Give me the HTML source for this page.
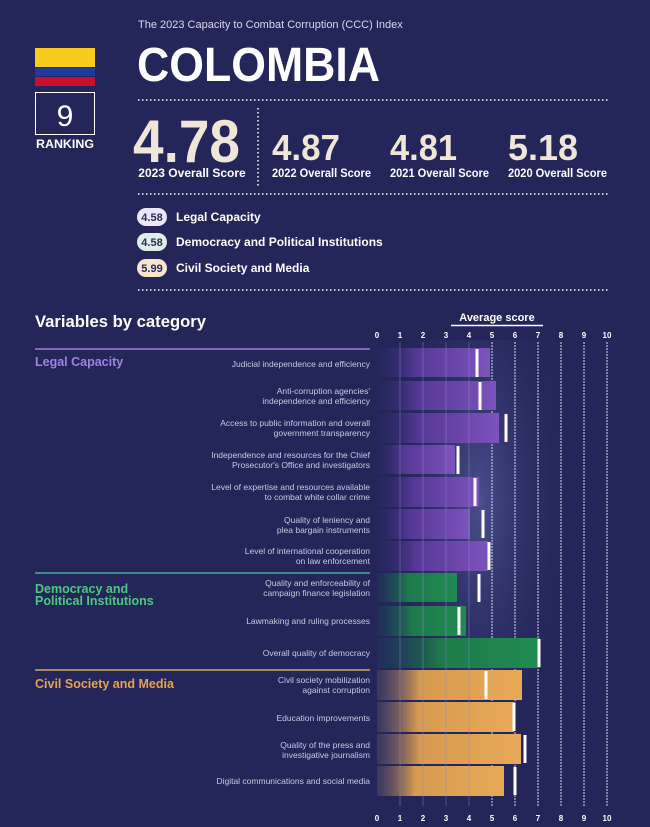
<!DOCTYPE html>
<html><head><meta charset="utf-8"><style>
html,body{margin:0;padding:0;background:#24265a;}
svg{display:block}
text{font-family:"Liberation Sans",sans-serif;}
</style></head><body>
<svg width="650" height="827" viewBox="0 0 650 827" xmlns="http://www.w3.org/2000/svg">
<defs>
<linearGradient id="gp" x1="0" x2="1"><stop offset="0" stop-color="#2a2868" stop-opacity="0.2"/><stop offset="0.35" stop-color="#553896"/><stop offset="1" stop-color="#7d52bc"/></linearGradient>
<linearGradient id="gg" x1="0" x2="1"><stop offset="0" stop-color="#1a4a58" stop-opacity="0.2"/><stop offset="0.4" stop-color="#1d7a4c"/><stop offset="1" stop-color="#218a52"/></linearGradient>
<linearGradient id="go" x1="0" x2="1"><stop offset="0" stop-color="#6a5a70" stop-opacity="0.3"/><stop offset="0.3" stop-color="#d69a50"/><stop offset="1" stop-color="#e8aa58"/></linearGradient>
<radialGradient id="glow" cx="0.5" cy="0.35" r="0.6"><stop offset="0" stop-color="#4a4f8c"/><stop offset="1" stop-color="#24265a" stop-opacity="0"/></radialGradient>
</defs>
<rect width="650" height="827" fill="#24265a"/>
<text x="138" y="28" font-size="11" fill="#d8d8e8">The 2023 Capacity to Combat Corruption (CCC) Index</text>
<text x="137" y="81" font-size="48" font-weight="bold" fill="#ffffff" textLength="243" lengthAdjust="spacingAndGlyphs">COLOMBIA</text>
<rect x="35" y="48" width="60" height="19" fill="#f8cc1c"/>
<rect x="35" y="68" width="60" height="8" fill="#1e3a9c"/>
<rect x="35" y="77" width="60" height="9" fill="#c8102e"/>
<rect x="35.5" y="92.5" width="59" height="42" fill="none" stroke="#ffffff" stroke-width="1"/>
<text x="65" y="126" font-size="30" fill="#ffffff" text-anchor="middle">9</text>
<text x="65" y="148" font-size="12" font-weight="bold" fill="#ffffff" text-anchor="middle" textLength="58" lengthAdjust="spacingAndGlyphs">RANKING</text>
<line x1="138" y1="100" x2="610" y2="100" stroke="#fff" stroke-width="1.5" stroke-dasharray="1.5 2.5"/>
<line x1="258" y1="108" x2="258" y2="188" stroke="#fff" stroke-width="1.5" stroke-dasharray="1.5 2.5"/>
<text x="133" y="162" font-size="60" font-weight="bold" fill="#efe6d8" textLength="107" lengthAdjust="spacingAndGlyphs">4.78</text>
<text x="192" y="177" font-size="12" font-weight="bold" fill="#fff" text-anchor="middle">2023 Overall Score</text>
<text x="272" y="160" font-size="36" font-weight="bold" fill="#efe6d8" textLength="68" lengthAdjust="spacingAndGlyphs">4.87</text>
<text x="390" y="160" font-size="36" font-weight="bold" fill="#efe6d8" textLength="67" lengthAdjust="spacingAndGlyphs">4.81</text>
<text x="508" y="160" font-size="36" font-weight="bold" fill="#efe6d8" textLength="70" lengthAdjust="spacingAndGlyphs">5.18</text>
<text x="272" y="177" font-size="12" font-weight="bold" fill="#fff" textLength="99" lengthAdjust="spacingAndGlyphs">2022 Overall Score</text>
<text x="390" y="177" font-size="12" font-weight="bold" fill="#fff" textLength="99" lengthAdjust="spacingAndGlyphs">2021 Overall Score</text>
<text x="508" y="177" font-size="12" font-weight="bold" fill="#fff" textLength="99" lengthAdjust="spacingAndGlyphs">2020 Overall Score</text>
<line x1="138" y1="194" x2="610" y2="194" stroke="#fff" stroke-width="1.5" stroke-dasharray="1.5 2.5"/>
<rect x="137" y="208" width="30" height="18" rx="9" fill="#ece6f8"/>
<text x="152" y="221" font-size="11" font-weight="bold" fill="#2a2a5a" text-anchor="middle">4.58</text>
<text x="176" y="221" font-size="12" font-weight="bold" fill="#fff">Legal Capacity</text>
<rect x="137" y="233" width="30" height="18" rx="9" fill="#dcf0e8"/>
<text x="152" y="246" font-size="11" font-weight="bold" fill="#2a2a5a" text-anchor="middle">4.58</text>
<text x="176" y="246" font-size="12" font-weight="bold" fill="#fff">Democracy and Political Institutions</text>
<rect x="137" y="259" width="30" height="18" rx="9" fill="#f8e6cc"/>
<text x="152" y="272" font-size="11" font-weight="bold" fill="#2a2a5a" text-anchor="middle">5.99</text>
<text x="176" y="272" font-size="12" font-weight="bold" fill="#fff">Civil Society and Media</text>
<line x1="138" y1="290" x2="610" y2="290" stroke="#fff" stroke-width="1.5" stroke-dasharray="1.5 2.5"/>
<text x="35" y="327" font-size="17" font-weight="bold" fill="#fff" textLength="171" lengthAdjust="spacingAndGlyphs">Variables by category</text>
<text x="497" y="321" font-size="11" font-weight="bold" fill="#fff" text-anchor="middle">Average score</text>
<line x1="451" y1="325.5" x2="543" y2="325.5" stroke="#fff" stroke-width="1.5"/>
<rect x="400" y="340" width="160" height="460" fill="url(#glow)"/>
<g stroke="#d8d8ee" stroke-dasharray="2 1">
<line x1="492" y1="342" x2="492" y2="806"/><line x1="515" y1="342" x2="515" y2="806"/><line x1="538" y1="342" x2="538" y2="806"/><line x1="561" y1="342" x2="561" y2="806"/><line x1="584" y1="342" x2="584" y2="806"/><line x1="607" y1="342" x2="607" y2="806"/>
</g>
<g font-size="8" font-weight="bold" fill="#fff" text-anchor="middle">
<text x="377" y="338">0</text><text x="400" y="338">1</text><text x="423" y="338">2</text><text x="446" y="338">3</text><text x="469" y="338">4</text><text x="492" y="338">5</text><text x="515" y="338">6</text><text x="538" y="338">7</text><text x="561" y="338">8</text><text x="584" y="338">9</text><text x="607" y="338">10</text>
<text x="377" y="821">0</text><text x="400" y="821">1</text><text x="423" y="821">2</text><text x="446" y="821">3</text><text x="469" y="821">4</text><text x="492" y="821">5</text><text x="515" y="821">6</text><text x="538" y="821">7</text><text x="561" y="821">8</text><text x="584" y="821">9</text><text x="607" y="821">10</text>
</g>
<line x1="35" y1="349" x2="370" y2="349" stroke="#9a80d8" stroke-width="1.5"/>
<text x="35" y="366" font-size="12.5" font-weight="bold" fill="#a082e0">Legal Capacity</text>
<line x1="35" y1="573" x2="370" y2="573" stroke="#4aa8a0" stroke-width="1.5"/>
<text x="35" y="593" font-size="12.5" font-weight="bold" fill="#4cc880">Democracy and</text>
<text x="35" y="605" font-size="12.5" font-weight="bold" fill="#4cc880">Political Institutions</text>
<line x1="35" y1="670" x2="370" y2="670" stroke="#e0a060" stroke-width="1.5"/>
<text x="35" y="688" font-size="12.5" font-weight="bold" fill="#e8a050">Civil Society and Media</text>
<g>
<rect x="377" y="348" width="113" height="29" fill="url(#gp)"/>
<rect x="377" y="381" width="119" height="29" fill="url(#gp)"/>
<rect x="377" y="413" width="122" height="30" fill="url(#gp)"/>
<rect x="377" y="445" width="78" height="29" fill="url(#gp)"/>
<rect x="377" y="477" width="102" height="30" fill="url(#gp)"/>
<rect x="377" y="509" width="93" height="30" fill="url(#gp)"/>
<rect x="377" y="541" width="111" height="30" fill="url(#gp)"/>
<rect x="377" y="573" width="80" height="29" fill="url(#gg)"/>
<rect x="377" y="606" width="89" height="30" fill="url(#gg)"/>
<rect x="377" y="638" width="163" height="30" fill="url(#gg)"/>
<rect x="377" y="670" width="145" height="30" fill="url(#go)"/>
<rect x="377" y="702" width="137" height="30" fill="url(#go)"/>
<rect x="377" y="734" width="144" height="30" fill="url(#go)"/>
<rect x="377" y="766" width="127" height="30" fill="url(#go)"/>
</g>
<g stroke="#8a8cc8" stroke-opacity="0.45" stroke-width="1">
<line x1="400" y1="342" x2="400" y2="806"/><line x1="423" y1="342" x2="423" y2="806"/><line x1="446" y1="342" x2="446" y2="806"/><line x1="469" y1="342" x2="469" y2="806"/>
</g>
<g fill="#fff">
<rect x="475.5" y="349" width="3" height="28"/>
<rect x="478.5" y="382" width="3" height="28"/>
<rect x="504.5" y="414" width="3" height="28"/>
<rect x="456.5" y="446" width="3" height="28"/>
<rect x="473.5" y="478" width="3" height="28"/>
<rect x="481.5" y="510" width="3" height="28"/>
<rect x="487.5" y="542" width="3" height="28"/>
<rect x="477.5" y="574" width="3" height="28"/>
<rect x="457.5" y="607" width="3" height="28"/>
<rect x="537.5" y="639" width="3" height="28"/>
<rect x="484.5" y="671" width="3" height="28"/>
<rect x="512.5" y="703" width="3" height="28"/>
<rect x="523.5" y="735" width="3" height="28"/>
<rect x="513.5" y="767" width="3" height="28"/>
</g>
<g font-size="8.5" fill="#c8c8e2" text-anchor="end">
<text x="370" y="367">Judicial independence and efficiency</text>
<text x="370" y="394">Anti-corruption agencies'</text><text x="370" y="404">independence and efficiency</text>
<text x="370" y="426">Access to public information and overall</text><text x="370" y="436">government transparency</text>
<text x="370" y="458">Independence and resources for the Chief</text><text x="370" y="468">Prosecutor's Office and investigators</text>
<text x="370" y="490">Level of expertise and resources available</text><text x="370" y="500">to combat white collar crime</text>
<text x="370" y="523">Quality of leniency and</text><text x="370" y="533">plea bargain instruments</text>
<text x="370" y="554">Level of international cooperation</text><text x="370" y="564">on law enforcement</text>
<text x="370" y="586">Quality and enforceability of</text><text x="370" y="596">campaign finance legislation</text>
<text x="370" y="624">Lawmaking and ruling processes</text>
<text x="370" y="656">Overall quality of democracy</text>
<text x="370" y="683">Civil society mobilization</text><text x="370" y="693">against corruption</text>
<text x="370" y="721">Education improvements</text>
<text x="370" y="748">Quality of the press and</text><text x="370" y="758">investigative journalism</text>
<text x="370" y="784">Digital communications and social media</text>
</g>
</svg>
</body></html>
